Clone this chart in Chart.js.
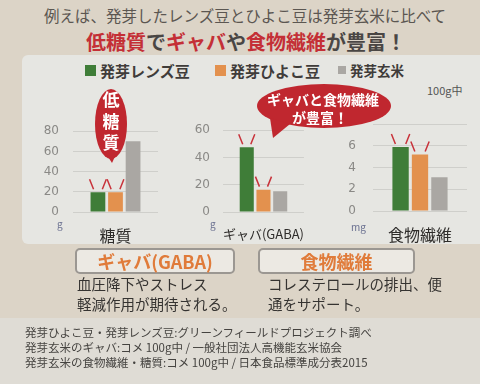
<!DOCTYPE html>
<html lang="ja">
<head>
<meta charset="UTF-8">
<title>発芽豆と発芽玄米の比較</title>
<script src="https://cdn.jsdelivr.net/npm/chart.js"></script>
<style>
  body { margin: 0; width: 480px; height: 384px; overflow: hidden; position: relative;
         background: #dcd4c7; font-family: "Noto Sans CJK JP", "Noto Sans", sans-serif; }
  .abs { position: absolute; }
  .panel { left: 22px; top: 55px; width: 470px; height: 189px; background: #e6e6e2; border-radius: 6px; }
  .foot { left: 0; top: 318px; width: 480px; height: 66px; background: #dfdcd5; }
  .line1 { left: 0; width: 490px; top: 4px; text-align: center; font-size: 15.5px; color: #5b5651; }
  .line2 { left: 0; width: 492px; top: 27px; text-align: center; font-size: 20px; font-weight: bold; color: #4a4644; }
  .line2 .r { color: #c42f36; }
  .leg { top: 60px; font-weight: bold; color: #3f3c3a; display: flex; align-items: center; }
  .leg i { display: inline-block; margin-right: 4px; }
  .chart { position: absolute; }
  .unit { font-size: 10px; color: #6a7090; }
  .box { border: 2px solid #9b9792; border-radius: 5px; background: #ece9e3; height: 22px;
         color: #e07b3a; font-size: 18px; font-weight: bold; text-align: center; line-height: 22px; }
  .desc { font-size: 14.5px; color: #353331; line-height: 20px; }
  .note { left: 25px; font-size: 11.5px; color: #454340; line-height: 15px; top: 325px; }
</style>
</head>
<body>
<div class="abs panel"></div>
<div class="abs foot"></div>
<div class="abs line1">例えば、発芽したレンズ豆とひよこ豆は発芽玄米に比べて</div>
<div class="abs line2"><span class="r">低糖質</span>で<span class="r">ギャバ</span>や<span class="r">食物繊維</span>が豊富！</div>

<div id="legend"></div>
<div class="abs" style="left:427px;top:82px;font-size:11px;color:#555;">100g中</div>

<div class="chart" style="left:30px;top:110px;width:128px;height:135px;"><canvas id="c1"></canvas></div>
<div class="chart" style="left:180px;top:110px;width:130px;height:135px;"><canvas id="c2"></canvas></div>
<div class="chart" style="left:330px;top:100px;width:137px;height:144px;"><canvas id="c3"></canvas></div>

<div class="abs unit" style="left:57px;top:216px;">g</div>
<div class="abs unit" style="left:210px;top:216px;">g</div>
<div class="abs unit" style="left:351px;top:219px;">mg</div>

<svg class="abs" style="left:0;top:0" width="480" height="250">
  <ellipse cx="111" cy="124" rx="16" ry="35" fill="#c0272f"/>
  <polygon points="105,152 117,152 112,163" fill="#c0272f"/>
  <text x="111" y="106" fill="#fff" font-size="17" font-weight="bold" text-anchor="middle">低</text>
  <text x="111" y="128" fill="#fff" font-size="17" font-weight="bold" text-anchor="middle">糖</text>
  <text x="111" y="149" fill="#fff" font-size="17" font-weight="bold" text-anchor="middle">質</text>
  <ellipse cx="324" cy="106" rx="67" ry="22" fill="#c0272f"/>
  <polygon points="270,118 290,124 273,138" fill="#c0272f"/>
  <text x="323" y="105" fill="#fff" font-size="14" font-weight="bold" text-anchor="middle">ギャバと食物繊維</text>
  <text x="320" y="123" fill="#fff" font-size="14" font-weight="bold" text-anchor="middle">が豊富！</text>
</svg>

<div class="abs box" style="left:75px;top:248px;width:156px;">ギャバ(GABA)</div>
<div class="abs box" style="left:258px;top:248px;width:153px;">食物繊維</div>
<div class="abs desc" style="left:77px;top:274px;">血圧降下やストレス<br>軽減作用が期待される。</div>
<div class="abs desc" style="left:268px;top:274px;">コレステロールの排出、便<br>通をサポート。</div>
<div class="abs note">発芽ひよこ豆・発芽レンズ豆:グリーンフィールドプロジェクト調べ<br>発芽玄米のギャバ:コメ 100g中 / 一般社団法人高機能玄米協会<br>発芽玄米の食物繊維・糖質:コメ 100g中 / 日本食品標準成分表2015</div>

<script>
const seriesNames = ['発芽レンズ豆', '発芽ひよこ豆', '発芽玄米'];
const seriesColors = ['#3f7d38', '#e3914e', '#aaa7a3'];
const sugarLabels = ['糖質'];
const sugarValues = [19.5, 19.5, 70];
const gabaLabels = ['ギャバ(GABA)'];
const gabaValues = [47.5, 16.4, 15.3];
const fiberLabels = ['食物繊維'];
const fiberValues = [5.9, 5.2, 3.1];

// legend
const legendPos = [85, 215, 338];
const legendSize = [15, 15, 13.5];
const legend = document.getElementById('legend');
seriesNames.forEach((name, i) => {
  const d = document.createElement('div');
  d.className = 'abs leg';
  d.style.left = legendPos[i] + 'px';
  d.style.fontSize = legendSize[i] + 'px';
  const sq = i === 2 ? 8 : 11;
  d.innerHTML = `<i style="width:${sq}px;height:${sq}px;background:${seriesColors[i]}"></i>${name}`;
  legend.appendChild(d);
});

// little red "\ /" marks above the highlighted bars
const sparks = {
  id: 'sparks',
  afterDatasetsDraw(chart) {
    const ctx = chart.ctx;
    ctx.save();
    ctx.strokeStyle = '#c8323a';
    ctx.lineWidth = 1.5;
    [0, 1].forEach(di => {
      chart.getDatasetMeta(di).data.forEach(bar => {
        const l = bar.x - bar.width / 2, r = bar.x + bar.width / 2;
        ctx.beginPath();
        ctx.moveTo(l - 1, bar.y - 13); ctx.lineTo(l + 3, bar.y - 3);
        ctx.moveTo(r + 1, bar.y - 13); ctx.lineTo(r - 3, bar.y - 3);
        ctx.stroke();
      });
    });
    ctx.restore();
  }
};

function makeChart(id, labels, values, max, step, padTop, tickPad, labelFont, hideTop) {
  new Chart(document.getElementById(id), {
    type: 'bar',
    data: {
      labels: labels,
      datasets: seriesNames.map((n, i) => ({
        label: n,
        data: [values[i]],
        backgroundColor: seriesColors[i],
        categoryPercentage: 0.62,
        barPercentage: 0.84
      }))
    },
    options: {
      responsive: true,
      maintainAspectRatio: false,
      animation: false,
      layout: { padding: { top: padTop, right: 0, left: 0, bottom: 0 } },
      plugins: { legend: { display: false }, tooltip: { enabled: false } },
      scales: {
        x: {
          grid: { display: false },
          border: { display: false },
          ticks: { color: '#2e2c2a', font: { size: labelFont, family: '"Noto Sans CJK JP"' }, padding: 6 },
          afterFit(s) { s.height = 33; }
        },
        y: {
          min: 0, max: max,
          grid: { color: '#cfcfcb', drawTicks: false },
          border: { display: false },
          ticks: {
            stepSize: step, padding: tickPad, color: '#8a8986',
            font: { size: 12, family: '"DejaVu Sans"' },
            callback: v => (hideTop && v === max) ? '' : v
          },
          afterFit(s) { s.width = 43; }
        }
      }
    },
    plugins: [sparks]
  });
}

makeChart('c1', sugarLabels, sugarValues, 80, 20, 16, 14, 16, false);
makeChart('c2', gabaLabels, gabaValues, 60, 20, 14, 13, 13, false);
makeChart('c3', fiberLabels, fiberValues, 8, 2, 16, 17, 16, true);
</script>
</body>
</html>
